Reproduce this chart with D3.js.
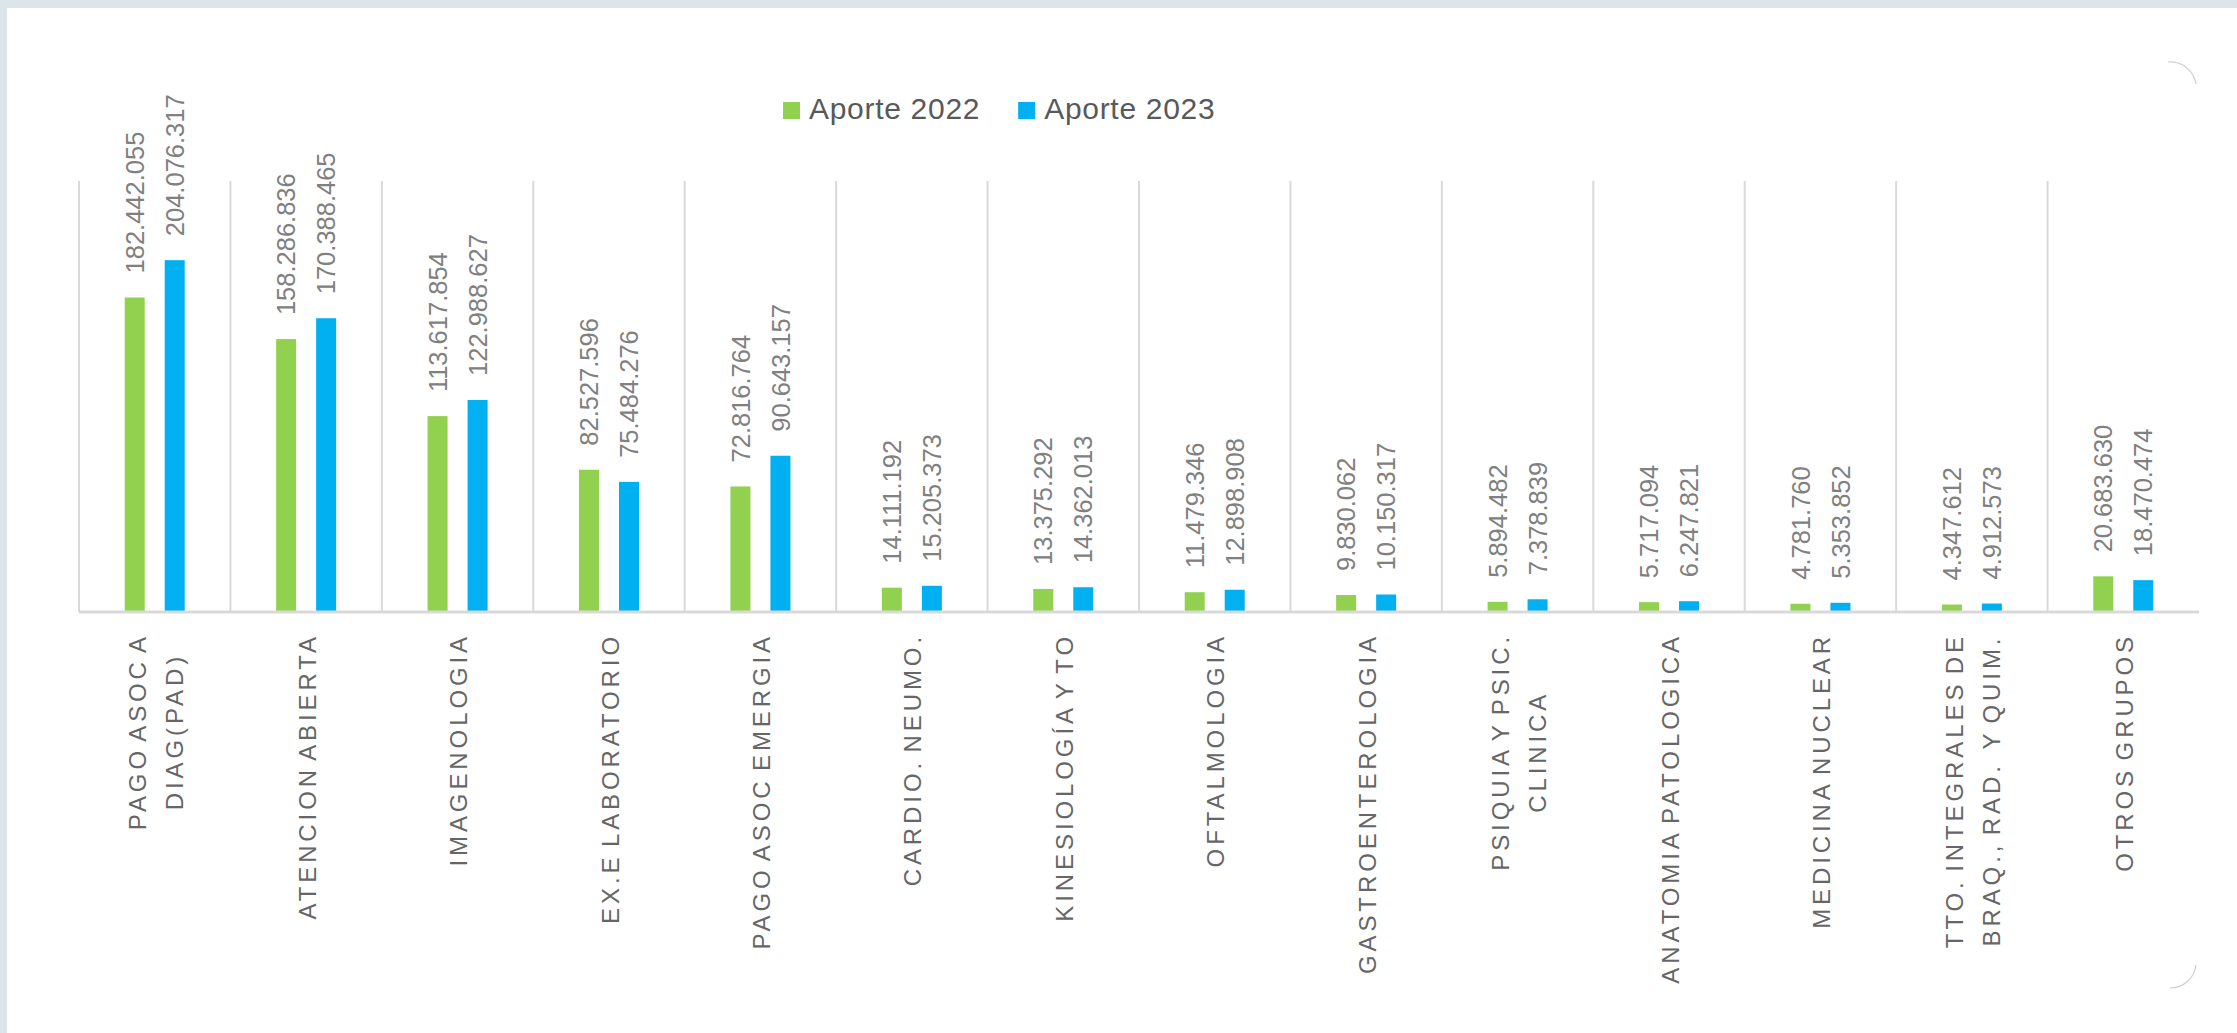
<!DOCTYPE html>
<html>
<head>
<meta charset="utf-8">
<script src="https://cdn.jsdelivr.net/npm/d3@7"></script>
<style>
    html, body { margin: 0; padding: 0; background: #ffffff; }
    #chart { width: 2237px; height: 1033px; }
    text { font-family: "Liberation Sans", Arial, sans-serif; }
</style>
</head>
<body>
<div id="chart"></div>
<script>
// categorias (una linea por elemento del array interno)
var categories = [
    ["PAGO ASOC A", "DIAG(PAD)"],
    ["ATENCION ABIERTA"],
    ["IMAGENOLOGIA"],
    ["EX.E LABORATORIO"],
    ["PAGO ASOC EMERGIA"],
    ["CARDIO. NEUMO."],
    ["KINESIOLOGÍA Y TO"],
    ["OFTALMOLOGIA"],
    ["GASTROENTEROLOGIA"],
    ["PSIQUIA Y PSIC.", "CLINICA"],
    ["ANATOMIA PATOLOGICA"],
    ["MEDICINA NUCLEAR"],
    ["TTO. INTEGRALES DE", "BRAQ., RAD.  Y QUIM."],
    ["OTROS GRUPOS"]
];
var seriesNames = ["Aporte 2022", "Aporte 2023"];
var aporte2022 = [182442055, 158286836, 113617854, 82527596, 72816764, 14111192, 13375292,
    11479346, 9830062, 5894482, 5717094, 4781760, 4347612, 20683630];
var aporte2023 = [204076317, 170388465, 122988627, 75484276, 90643157, 15205373, 14362013,
    12898908, 10150317, 7378839, 6247821, 5353852, 4912573, 18470474];
var yDomain = [0, 250000000];

var colours = ["#92d050", "#00b0f0"];

var W = 2237, H = 1033;
var margin = { left: 79, right: 38, top: 181, bottom: 421 };
var width = W - margin.left - margin.right;
var height = H - margin.top - margin.bottom;

var es = d3.formatLocale({ decimal: ",", thousands: ".", grouping: [3], currency: ["$", ""] });
var fmt = es.format(",");

var keys = categories.map(function (c) { return c.join(" "); });
var rows = keys.map(function (k, i) {
    return { key: k, lines: categories[i], values: [aporte2022[i], aporte2023[i]] };
});

var svg = d3.select("#chart").append("svg")
    .attr("width", W)
    .attr("height", H);

// marco de fondo
svg.append("rect").attr("x", 0).attr("y", 0).attr("width", W).attr("height", 8).attr("fill", "#dbe5ea");
svg.append("rect").attr("x", 0).attr("y", 0).attr("width", 7).attr("height", H).attr("fill", "#dbe5ea");

// esquinas redondeadas apenas visibles
svg.append("path")
    .attr("d", "M2168,62 A26,26 0 0 1 2196,84")
    .attr("fill", "none").attr("stroke", "#cfcfcf").attr("stroke-width", 1.2);
svg.append("path")
    .attr("d", "M2196,965 A26,26 0 0 1 2170,988")
    .attr("fill", "none").attr("stroke", "#cfcfcf").attr("stroke-width", 1.2);

var g = svg.append("g")
    .attr("transform", "translate(" + margin.left + "," + margin.top + ")");

var x = d3.scaleBand()
    .domain(keys)
    .range([0, width])
    .padding(0);

var bw = x.bandwidth();
var x1 = d3.scaleBand()
    .domain(seriesNames)
    .range([bw / 2 - 30, bw / 2 + 30])
    .paddingInner(0.5);

var y = d3.scaleLinear()
    .domain(yDomain)
    .range([height, 0]);

// lineas verticales entre categorias
g.selectAll(".vgrid")
    .data(keys)
    .enter().append("line")
    .attr("class", "vgrid")
    .attr("x1", function (d) { return x(d); })
    .attr("x2", function (d) { return x(d); })
    .attr("y1", 0)
    .attr("y2", height)
    .attr("stroke", "#d9d9d9")
    .attr("stroke-width", 2);

// barras
var groups = g.selectAll(".cat")
    .data(rows)
    .enter().append("g")
    .attr("class", "cat")
    .attr("transform", function (d) { return "translate(" + x(d.key) + ",0)"; });

groups.selectAll("rect")
    .data(function (d) { return d.values.map(function (v, i) { return { s: seriesNames[i], v: v, i: i }; }); })
    .enter().append("rect")
    .attr("x", function (d) { return x1(d.s); })
    .attr("width", x1.bandwidth())
    .attr("y", function (d) { return y(d.v); })
    .attr("height", function (d) { return height - y(d.v); })
    .attr("fill", function (d) { return colours[d.i]; });

// etiquetas de valor
groups.selectAll(".val")
    .data(function (d) { return d.values.map(function (v, i) { return { s: seriesNames[i], v: v }; }); })
    .enter().append("text")
    .attr("class", "val")
    .attr("transform", function (d) {
        return "translate(" + (x1(d.s) + x1.bandwidth() / 2) + "," + (y(d.v) - 24) + ") rotate(-90)";
    })
    .attr("dy", "0.36em")
    .attr("text-anchor", "start")
    .attr("font-size", "25.5px")
    .attr("fill", "#808080")
    .text(function (d) { return fmt(d.v); });

// eje x
g.append("line")
    .attr("x1", 0).attr("x2", width)
    .attr("y1", height).attr("y2", height)
    .attr("stroke", "#d9d9d9")
    .attr("stroke-width", 3);

// etiquetas de categoria (rotadas, lineas centradas entre si)
var labelTop = height + 21;
groups.each(function (d) {
    var lab = d3.select(this).append("g");
    var texts = lab.selectAll("text")
        .data(d.lines)
        .enter().append("text")
        .attr("text-anchor", "middle")
        .attr("font-size", "24px")
        .attr("letter-spacing", "3.9px")
        .attr("word-spacing", "-4px")
        .attr("fill", "#666666")
        .style("white-space", "pre")
        .attr("dy", "0.36em")
        .text(function (t) { return t; });
    var maxLen = 0;
    texts.each(function () { maxLen = Math.max(maxLen, this.getComputedTextLength()); });
    var n = d.lines.length;
    texts.attr("x", -maxLen / 2)
        .attr("y", function (t, i) { return (i - (n - 1) / 2) * 37; });
    lab.attr("transform", "translate(" + (bw / 2 + 1) + "," + labelTop + ") rotate(-90)");
});

// leyenda
var legend = svg.append("g").attr("class", "legend");
var lx = 783;
seriesNames.forEach(function (name, i) {
    legend.append("rect")
        .attr("x", lx).attr("y", 102)
        .attr("width", 17).attr("height", 17)
        .attr("fill", colours[i]);
    var t = legend.append("text")
        .attr("x", lx + 26).attr("y", 119)
        .attr("font-size", "30px")
        .attr("letter-spacing", "0.7px")
        .attr("fill", "#595959")
        .text(name);
    lx = lx + 26 + t.node().getComputedTextLength() + 38;
});
</script>
</body>
</html>
